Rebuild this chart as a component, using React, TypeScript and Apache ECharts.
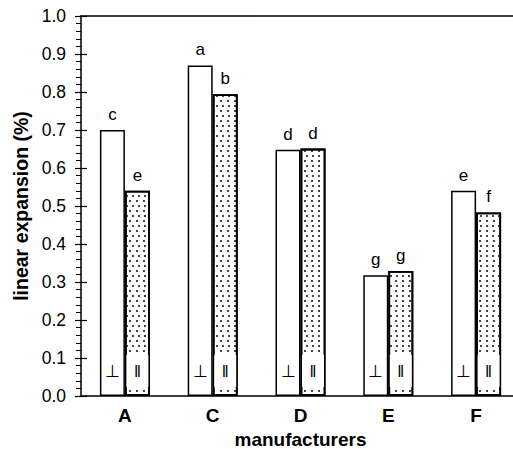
import React, { useEffect, useRef } from "react";
import * as echarts from "echarts";

const categories = ["A", "C", "D", "E", "F"];
const perpValues = [0.70, 0.87, 0.648, 0.318, 0.54];
const paraValues = [0.54, 0.794, 0.651, 0.329, 0.483];
const perpLetters = ["c", "a", "d", "g", "e"];
const paraLetters = ["e", "b", "d", "g", "f"];
const yTicks = [0, 0.1, 0.2, 0.3, 0.4, 0.5, 0.6, 0.7, 0.8, 0.9, 1.0];

const FONT = "'Liberation Sans', Arial, sans-serif";

export default function App() {
  const ref = useRef<HTMLDivElement>(null);
  useEffect(() => {
    if (!ref.current) return;
    const chart = echarts.init(ref.current, undefined, { renderer: "svg" });
    const decal = {
      symbol: "rect",
      symbolSize: 1,
      color: "#444",
      dashArrayX: [[1.5, 4], [0, 2.75, 1.5, 1.25]],
      dashArrayY: [1.5, 2.5],
    };
    const bottomLabel = (text: string, bg: string) => ({
      show: true,
      position: "insideBottom",
      distance: 9,
      formatter: text,
      fontFamily: FONT,
      fontSize: 17,
      color: "#000",
      textBorderWidth: 0,
      textBorderColor: "transparent",
      textShadowBlur: 0,
      backgroundColor: bg,
      width: 22,
      height: 32,
      lineHeight: 32,
    });
    chart.setOption({
      animation: false,
      grid: {
        left: 81,
        right: -7,
        top: 16,
        bottom: 53,
        containLabel: false,
        outerBoundsMode: "none",
      },
      xAxis: [
        {
          type: "category",
          data: categories,
          position: "bottom",
          axisLine: { show: true, lineStyle: { color: "#000", width: 1.5 } },
          axisTick: { show: false },
          axisLabel: {
            fontFamily: FONT,
            fontSize: 19,
            fontWeight: "bold",
            color: "#000",
            margin: 10,
          },
          name: "manufacturers",
          nameLocation: "middle",
          nameGap: 30,
          nameTextStyle: { fontFamily: FONT, fontSize: 19, fontWeight: "bold", color: "#000" },
        },
        {
          type: "category",
          data: categories,
          position: "bottom",
          show: false,
        },
        {
          type: "category",
          data: categories,
          position: "top",
          axisLine: { show: true, lineStyle: { color: "#000", width: 1.5 } },
          axisTick: { show: false },
          axisLabel: { show: false },
        },
      ],
      yAxis: [
        {
          type: "value",
          min: 0,
          max: 1,
          interval: 0.1,
          axisLine: { show: true, lineStyle: { color: "#000", width: 1.5 } },
          axisTick: { show: true, inside: false, length: 6, lineStyle: { color: "#000", width: 1.2 } },
          minorTick: { show: true, splitNumber: 5, length: 5, lineStyle: { color: "#000", width: 1 } },
          splitLine: { show: false },
          axisLabel: {
            fontFamily: FONT,
            fontSize: 17.5,
            color: "#000",
            margin: 15,
            formatter: (v: number) => {
              const t = yTicks.find((x) => Math.abs(x - v) < 1e-6);
              return (t ?? v).toFixed(1);
            },
          },
          name: "linear expansion (%)",
          nameLocation: "middle",
          nameGap: 49,
          nameTextStyle: { fontFamily: FONT, fontSize: 19.5, fontWeight: "bold", color: "#000" },
        },
        {
          type: "value",
          min: 0,
          max: 1,
          interval: 0.1,
          position: "left",
          axisLine: { show: false },
          axisTick: { show: true, inside: true, length: 6, lineStyle: { color: "#000", width: 1.2 } },
          splitLine: { show: false },
          axisLabel: { show: false },
        },
      ],
      series: [
        {
          type: "bar",
          name: "perpendicular",
          data: perpValues,
          barWidth: 25,
          barGap: "0%",
          itemStyle: { color: "#fff", borderColor: "#000", borderWidth: 1.5 },
          label: {
            show: true,
            position: "top",
            distance: 7,
            fontFamily: FONT,
            fontSize: 17,
            color: "#000",
            formatter: (p: any) => perpLetters[p.dataIndex],
          },
          z: 2,
        },
        {
          type: "bar",
          name: "parallel",
          data: paraValues,
          barWidth: 25,
          barGap: "0%",
          itemStyle: { color: "#fff", borderColor: "#000", borderWidth: 1.8, decal },
          label: {
            show: true,
            position: "top",
            distance: 7,
            fontFamily: FONT,
            fontSize: 17,
            color: "#000",
            formatter: (p: any) => paraLetters[p.dataIndex],
          },
          z: 2,
        },
        {
          type: "bar",
          xAxisIndex: 1,
          data: perpValues,
          barWidth: 25,
          barGap: "0%",
          silent: true,
          itemStyle: { color: "rgba(0,0,0,0)", borderWidth: 0 },
          label: bottomLabel("⊥", "rgba(0,0,0,0)"),
          z: 5,
        },
        {
          type: "bar",
          xAxisIndex: 1,
          data: paraValues,
          barWidth: 25,
          barGap: "0%",
          silent: true,
          itemStyle: { color: "rgba(0,0,0,0)", borderWidth: 0 },
          label: bottomLabel("ǁ", "#fff"),
          z: 5,
        },
      ],
    });
    return () => chart.dispose();
  }, []);
  return <div ref={ref} style={{ width: 513, height: 449, position: "absolute", left: 0, top: 0 }} />;
}
